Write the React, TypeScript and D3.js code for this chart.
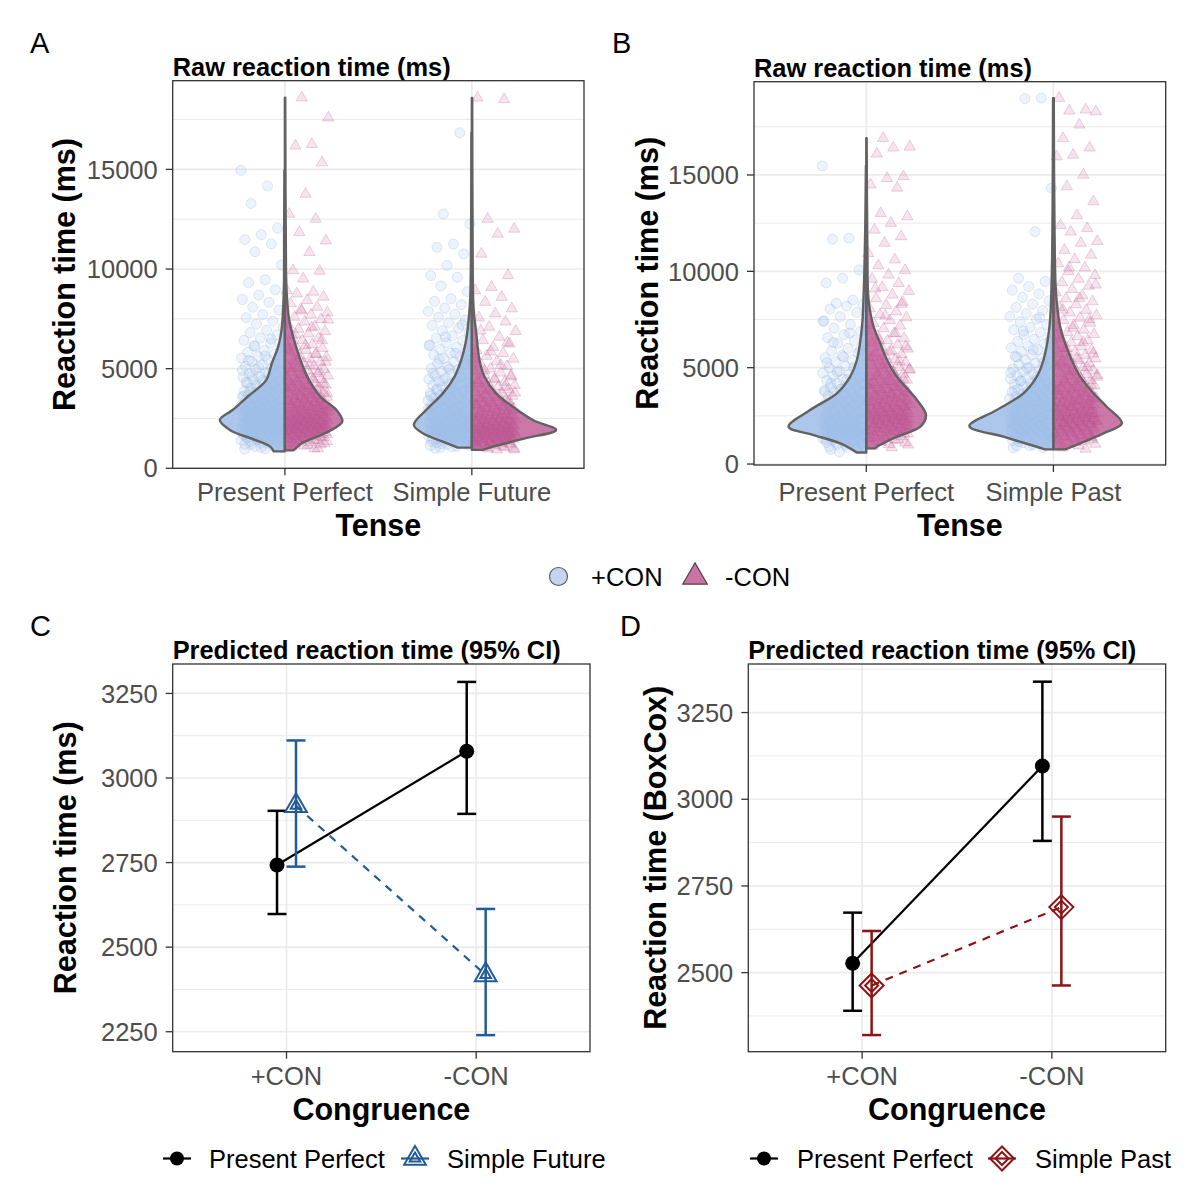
import React from "react";
import * as d3 from "d3";

const FONT = "'Liberation Sans', Arial, Helvetica, sans-serif";

// ---------------- categories / ticks ----------------
const tenseA = ["Present Perfect", "Simple Future"];
const tenseB = ["Present Perfect", "Simple Past"];
const congruenceLevels = ["+CON", "-CON"];
const rawTicks = [0, 5000, 10000, 15000];
const rawMinor = [2500, 7500, 12500, 17500];
const predTicksC = [2250, 2500, 2750, 3000, 3250];
const predMinorC = [2375, 2625, 2875, 3125];
const predTicksD = [2500, 2750, 3000, 3250];
const predMinorD = [2375, 2625, 2875, 3125, 3375];

// ---------------- raw reaction times (ms) ----------------
const rawA_PP_pos = [14950, 14170, 13290, 12050, 11720, 11480, 11260, 10870, 10210, 9460, 9310, 8960, 8690, 8470, 8330, 8080, 7940, 7710, 7560, 7390, 7240, 7080, 6930, 6810, 6690, 6540, 6420, 6270, 6150, 6040, 5910, 5830, 5720, 5610, 5530, 5440, 5360, 5270, 5190, 5120, 5030, 4960, 4890, 4810, 4760, 4690, 4620, 4570, 4510, 4440, 4390, 4330, 4280, 4220, 4170, 4130, 4070, 4020, 3980, 3930, 3890, 3840, 3800, 3770, 3720, 3690, 3650, 3610, 3580, 3540, 3510, 3470, 3440, 3410, 3370, 3340, 3310, 3280, 3250, 3220, 3190, 3160, 3130, 3100, 3080, 3050, 3020, 2990, 2960, 2940, 2910, 2880, 2860, 2830, 2800, 2780, 2750, 2730, 2700, 2680, 2650, 2630, 2610, 2580, 2560, 2540, 2510, 2490, 2470, 2440, 2420, 2400, 2370, 2350, 2330, 2300, 2280, 2260, 2230, 2210, 2190, 2160, 2140, 2110, 2090, 2060, 2040, 2010, 1990, 1960, 1930, 1900, 1870, 1840, 1800, 1770, 1730, 1690, 1650, 1610, 1560, 1510, 1460, 1400, 1340, 1270, 1200, 1120, 1040, 960];
const moreA_PP_pos = [6480, 6120, 5870, 5640, 5410, 5230, 5060, 4920, 4780, 4650, 4530, 4420, 4310, 4210, 4110, 4020, 3930, 3850, 3770, 3700, 3630, 3560, 3490, 3430, 3370, 3310, 3250, 3200, 3150, 3100, 3050, 3000, 2960, 2910, 2870, 2830, 2790, 2750, 2710, 2670, 2640, 2600, 2570, 2530, 2500, 2470, 2440, 2410, 2380, 2350, 2320, 2290, 2260, 2230, 2210, 2180, 2150, 2130, 2100, 2080, 2050, 2030, 2000, 1980, 1950, 1930, 1900, 1880, 1850, 1830, 1800, 1780, 1750, 1720, 1700, 1670, 1640, 1610, 1580, 1550, 1520, 1490, 1450, 1420, 1380, 1340, 1300, 1260, 1210, 1160, 1100, 1040, 980];
const rawA_PP_neg = [18600, 17590, 16260, 16180, 15340, 13760, 12760, 12510, 11840, 11420, 10840, 9930, 9900, 9510, 8930, 8850, 8760, 8600, 8430, 8270, 8090, 7960, 7820, 7700, 7590, 7480, 7350, 7220, 7110, 6990, 6880, 6760, 6650, 6540, 6420, 6330, 6210, 6110, 6020, 5930, 5840, 5740, 5660, 5570, 5490, 5410, 5330, 5260, 5180, 5110, 5040, 4970, 4900, 4840, 4770, 4710, 4650, 4590, 4530, 4470, 4410, 4360, 4300, 4250, 4190, 4140, 4090, 4040, 3990, 3940, 3890, 3850, 3800, 3760, 3710, 3670, 3630, 3580, 3540, 3500, 3460, 3420, 3380, 3340, 3300, 3270, 3230, 3190, 3160, 3120, 3080, 3050, 3010, 2980, 2940, 2910, 2870, 2840, 2810, 2770, 2740, 2710, 2680, 2640, 2610, 2580, 2550, 2520, 2490, 2460, 2430, 2400, 2370, 2340, 2310, 2280, 2250, 2220, 2190, 2160, 2130, 2100, 2070, 2040, 2010, 1980, 1950, 1910, 1880, 1840, 1800, 1760, 1720, 1680, 1630, 1580, 1530, 1470, 1410, 1340, 1260, 1170, 1080, 990];
const moreA_PP_neg = [7900, 7450, 7060, 6720, 6430, 6170, 5940, 5720, 5520, 5340, 5170, 5010, 4860, 4720, 4590, 4470, 4350, 4240, 4130, 4030, 3930, 3840, 3750, 3670, 3590, 3510, 3440, 3370, 3300, 3230, 3170, 3110, 3050, 2990, 2940, 2880, 2830, 2780, 2730, 2680, 2640, 2590, 2550, 2510, 2470, 2430, 2390, 2350, 2310, 2280, 2240, 2210, 2170, 2140, 2110, 2080, 2050, 2020, 1990, 1960, 1930, 1900, 1870, 1840, 1810, 1780, 1750, 1720, 1690, 1660, 1620, 1590, 1550, 1520, 1480, 1440, 1400, 1350, 1300, 1250, 1190, 1130, 1060, 990];
const rawA_SF_pos = [16840, 12760, 12260, 11260, 11090, 10760, 10180, 9670, 9590, 9150, 8870, 8510, 8380, 8210, 8040, 7880, 7730, 7590, 7440, 7300, 7170, 7030, 6900, 6780, 6650, 6530, 6410, 6300, 6190, 6080, 5980, 5880, 5780, 5690, 5600, 5510, 5420, 5340, 5250, 5170, 5090, 5020, 4940, 4870, 4800, 4730, 4660, 4600, 4530, 4470, 4410, 4350, 4290, 4230, 4170, 4120, 4060, 4010, 3960, 3910, 3860, 3810, 3760, 3710, 3670, 3620, 3580, 3530, 3490, 3450, 3410, 3370, 3330, 3290, 3250, 3210, 3170, 3140, 3100, 3060, 3030, 2990, 2960, 2920, 2890, 2860, 2820, 2790, 2760, 2730, 2700, 2670, 2640, 2610, 2580, 2550, 2520, 2490, 2460, 2430, 2400, 2370, 2340, 2310, 2280, 2250, 2220, 2190, 2160, 2130, 2100, 2070, 2040, 2010, 1980, 1950, 1920, 1890, 1860, 1830, 1790, 1760, 1720, 1680, 1640, 1600, 1560, 1510, 1460, 1410, 1350, 1290, 1230, 1160, 1090, 1010];
const moreA_SF_pos = [7200, 6600, 6150, 5780, 5470, 5200, 4970, 4760, 4570, 4400, 4250, 4110, 3980, 3860, 3750, 3640, 3540, 3450, 3360, 3270, 3190, 3110, 3040, 2970, 2900, 2840, 2780, 2720, 2660, 2610, 2560, 2510, 2460, 2420, 2370, 2330, 2290, 2250, 2210, 2170, 2140, 2100, 2070, 2030, 2000, 1970, 1940, 1910, 1880, 1850, 1820, 1790, 1760, 1740, 1710, 1680, 1650, 1620, 1590, 1560, 1530, 1500, 1470, 1440, 1400, 1370, 1330, 1290, 1250, 1200, 1150, 1100, 1050];
const rawA_SF_neg = [18590, 18510, 12510, 12010, 11760, 10760, 9680, 9090, 8920, 8590, 8340, 8010, 7760, 7560, 7350, 7090, 6880, 6590, 6420, 6250, 6070, 5920, 5770, 5630, 5490, 5360, 5240, 5120, 5000, 4890, 4790, 4690, 4590, 4500, 4410, 4330, 4250, 4170, 4090, 4020, 3950, 3880, 3810, 3750, 3690, 3630, 3570, 3510, 3460, 3400, 3350, 3300, 3250, 3200, 3150, 3110, 3060, 3020, 2970, 2930, 2890, 2850, 2810, 2770, 2730, 2690, 2650, 2620, 2580, 2540, 2510, 2470, 2440, 2400, 2370, 2340, 2310, 2270, 2240, 2210, 2180, 2150, 2120, 2090, 2060, 2030, 2000, 1970, 1940, 1910, 1880, 1850, 1820, 1790, 1760, 1730, 1700, 1670, 1640, 1610, 1570, 1540, 1500, 1470, 1430, 1390, 1350, 1300, 1260, 1210, 1160, 1110, 1050, 990, 930];
const moreA_SF_neg = [6900, 6300, 5850, 5480, 5170, 4900, 4660, 4450, 4260, 4090, 3930, 3790, 3650, 3530, 3410, 3300, 3200, 3100, 3010, 2920, 2840, 2760, 2690, 2620, 2550, 2490, 2430, 2370, 2320, 2270, 2220, 2170, 2130, 2090, 2050, 2010, 1970, 1940, 1900, 1870, 1840, 1810, 1780, 1750, 1720, 1690, 1660, 1630, 1610, 1580, 1550, 1520, 1490, 1460, 1430, 1400, 1370, 1340, 1300, 1270, 1230, 1190, 1150, 1100, 1050, 990, 940];
const rawB_PP_pos = [15470, 11720, 11670, 10080, 9640, 9400, 8510, 8340, 8290, 8200, 8050, 7860, 7650, 7430, 7240, 7050, 6880, 6720, 6560, 6410, 6270, 6130, 6000, 5870, 5750, 5630, 5520, 5410, 5300, 5200, 5100, 5000, 4910, 4820, 4730, 4650, 4570, 4490, 4410, 4340, 4270, 4200, 4130, 4060, 4000, 3940, 3880, 3820, 3760, 3700, 3650, 3590, 3540, 3490, 3440, 3390, 3340, 3290, 3250, 3200, 3160, 3110, 3070, 3030, 2990, 2950, 2910, 2870, 2830, 2790, 2760, 2720, 2680, 2650, 2610, 2580, 2550, 2510, 2480, 2450, 2420, 2390, 2360, 2330, 2300, 2270, 2240, 2210, 2180, 2150, 2120, 2090, 2060, 2030, 2000, 1970, 1940, 1910, 1880, 1850, 1820, 1790, 1760, 1730, 1700, 1670, 1640, 1600, 1570, 1530, 1490, 1450, 1410, 1360, 1310, 1260, 1200, 1140, 1070, 990, 900, 800, 620];
const moreB_PP_pos = [7400, 6800, 6300, 5900, 5560, 5270, 5010, 4780, 4570, 4380, 4200, 4040, 3890, 3750, 3620, 3500, 3390, 3280, 3180, 3080, 2990, 2900, 2820, 2740, 2670, 2600, 2530, 2470, 2410, 2350, 2290, 2240, 2190, 2140, 2090, 2050, 2010, 1970, 1930, 1890, 1850, 1810, 1780, 1740, 1710, 1670, 1640, 1610, 1570, 1540, 1510, 1480, 1440, 1410, 1370, 1340, 1300, 1260, 1220, 1170, 1120, 1070, 1010, 940, 860, 760];
const rawB_PP_neg = [16910, 16460, 16410, 16100, 14920, 14830, 14490, 14330, 13010, 12840, 12500, 12150, 11810, 11470, 10940, 10600, 10300, 10050, 9820, 9600, 9380, 9170, 8970, 8780, 8590, 8410, 8240, 8070, 7910, 7750, 7600, 7450, 7310, 7170, 7030, 6900, 6770, 6650, 6530, 6410, 6300, 6190, 6080, 5980, 5880, 5780, 5690, 5600, 5510, 5420, 5340, 5260, 5180, 5100, 5030, 4950, 4880, 4810, 4740, 4670, 4610, 4540, 4480, 4420, 4360, 4300, 4240, 4180, 4120, 4070, 4010, 3960, 3910, 3860, 3810, 3760, 3710, 3660, 3610, 3570, 3520, 3480, 3430, 3390, 3350, 3300, 3260, 3220, 3180, 3140, 3100, 3060, 3020, 2980, 2940, 2900, 2870, 2830, 2790, 2750, 2720, 2680, 2640, 2610, 2570, 2540, 2500, 2470, 2430, 2400, 2360, 2330, 2290, 2250, 2220, 2180, 2140, 2100, 2060, 2020, 1980, 1930, 1880, 1830, 1770, 1710, 1640, 1560, 1470, 1370, 1260, 1140, 1000, 860];
const moreB_PP_neg = [9100, 8300, 7700, 7200, 6780, 6420, 6100, 5820, 5560, 5330, 5120, 4920, 4740, 4570, 4410, 4260, 4120, 3990, 3870, 3750, 3640, 3530, 3430, 3330, 3240, 3150, 3060, 2980, 2900, 2830, 2760, 2690, 2620, 2560, 2500, 2440, 2380, 2330, 2270, 2220, 2170, 2120, 2070, 2030, 1980, 1940, 1890, 1850, 1800, 1760, 1720, 1670, 1630, 1580, 1530, 1480, 1430, 1370, 1310, 1250, 1180, 1110, 1030, 940];
const rawB_SP_pos = [18990, 18960, 14310, 12060, 9640, 9470, 9210, 9020, 8830, 8650, 8470, 8300, 8130, 7970, 7810, 7660, 7510, 7370, 7230, 7090, 6960, 6830, 6710, 6590, 6470, 6360, 6250, 6140, 6040, 5940, 5840, 5750, 5660, 5570, 5480, 5400, 5320, 5240, 5160, 5080, 5010, 4940, 4870, 4800, 4730, 4670, 4600, 4540, 4480, 4420, 4360, 4300, 4250, 4190, 4140, 4080, 4030, 3980, 3930, 3880, 3830, 3780, 3740, 3690, 3640, 3600, 3550, 3510, 3470, 3420, 3380, 3340, 3300, 3260, 3220, 3180, 3140, 3100, 3070, 3030, 2990, 2950, 2920, 2880, 2850, 2810, 2780, 2740, 2710, 2680, 2640, 2610, 2580, 2540, 2510, 2480, 2450, 2420, 2380, 2350, 2320, 2290, 2260, 2230, 2200, 2170, 2140, 2110, 2070, 2040, 2010, 1980, 1940, 1910, 1870, 1840, 1800, 1760, 1720, 1680, 1630, 1580, 1530, 1470, 1410, 1340, 1260, 1170, 1070, 960, 830];
const moreB_SP_pos = [7600, 6900, 6350, 5920, 5560, 5250, 4980, 4740, 4520, 4320, 4140, 3970, 3810, 3670, 3530, 3400, 3280, 3170, 3060, 2960, 2870, 2780, 2690, 2610, 2540, 2470, 2400, 2340, 2280, 2220, 2160, 2110, 2060, 2010, 1960, 1920, 1880, 1840, 1800, 1760, 1720, 1680, 1650, 1610, 1580, 1540, 1510, 1470, 1440, 1400, 1370, 1330, 1290, 1250, 1210, 1160, 1110, 1060, 1000, 930, 850];
const rawB_SP_neg = [18990, 18380, 18330, 18290, 17600, 16900, 16410, 16040, 15950, 15000, 14400, 13620, 12900, 12390, 12230, 12050, 11560, 11470, 11100, 10850, 10620, 10400, 10190, 9990, 9790, 9600, 9420, 9240, 9070, 8900, 8740, 8580, 8430, 8280, 8130, 7990, 7850, 7710, 7580, 7450, 7320, 7200, 7080, 6960, 6840, 6730, 6620, 6510, 6410, 6300, 6200, 6100, 6010, 5910, 5820, 5730, 5640, 5560, 5470, 5390, 5310, 5230, 5150, 5080, 5000, 4930, 4860, 4790, 4720, 4650, 4590, 4520, 4460, 4400, 4340, 4280, 4220, 4160, 4110, 4050, 4000, 3940, 3890, 3840, 3790, 3740, 3690, 3640, 3600, 3550, 3510, 3460, 3420, 3380, 3330, 3290, 3250, 3210, 3170, 3130, 3090, 3060, 3020, 2980, 2940, 2910, 2870, 2840, 2800, 2770, 2730, 2700, 2660, 2630, 2600, 2560, 2530, 2500, 2470, 2430, 2400, 2370, 2340, 2300, 2270, 2240, 2200, 2170, 2130, 2100, 2060, 2020, 1980, 1940, 1890, 1840, 1790, 1730, 1660, 1590, 1500, 1400, 1280, 1130, 950, 780];
const moreB_SP_neg = [10200, 9300, 8600, 8000, 7500, 7060, 6670, 6320, 6010, 5730, 5470, 5230, 5010, 4800, 4610, 4430, 4260, 4100, 3950, 3810, 3670, 3540, 3420, 3300, 3190, 3080, 2980, 2880, 2790, 2700, 2610, 2530, 2450, 2380, 2310, 2240, 2180, 2120, 2060, 2000, 1950, 1890, 1840, 1790, 1740, 1690, 1640, 1590, 1540, 1490, 1440, 1380, 1320, 1260, 1190, 1120, 1040, 950, 850];

// ---------------- violin half-widths: [rt (ms), half width (category units)] ----------------
const violinA_PP_pos = [[850, 0.06], [1100, 0.08], [1425, 0.16], [1925, 0.294], [2425, 0.348], [2925, 0.28], [3590, 0.2], [4425, 0.1], [5260, 0.07], [6090, 0.036], [6925, 0.018], [8770, 0.006], [12000, 0.004], [14950, 0.002]];
const violinA_PP_neg = [[900, 0.045], [1100, 0.07], [1260, 0.09], [1760, 0.214], [2340, 0.307], [2925, 0.276], [3590, 0.19], [4425, 0.13], [5260, 0.09], [6090, 0.06], [6925, 0.035], [7500, 0.022], [8760, 0.01], [10000, 0.006], [18600, 0.002]];
const violinA_SF_pos = [[1040, 0.075], [1340, 0.155], [1760, 0.262], [2175, 0.31], [2925, 0.244], [3760, 0.155], [4590, 0.093], [5425, 0.057], [6260, 0.034], [7090, 0.021], [8425, 0.009], [12000, 0.004], [16840, 0.002]];
const violinA_SF_neg = [[925, 0.059], [1090, 0.112], [1510, 0.289], [1925, 0.451], [2425, 0.326], [3090, 0.219], [3760, 0.13], [4590, 0.068], [5425, 0.041], [6760, 0.024], [8090, 0.009], [12000, 0.004], [18590, 0.002]];
const violinB_PP_pos = [[600, 0.05], [1074, 0.139], [1505, 0.282], [1937, 0.415], [2804, 0.3], [3671, 0.157], [4533, 0.086], [5400, 0.05], [7129, 0.023], [8862, 0.014], [12000, 0.006], [15470, 0.002]];
const violinB_PP_neg = [[815, 0.048], [898, 0.057], [1418, 0.164], [1937, 0.289], [2544, 0.319], [3323, 0.271], [4533, 0.164], [5400, 0.111], [6266, 0.075], [7129, 0.039], [8515, 0.012], [11000, 0.006], [16910, 0.002]];
const violinB_SP_pos = [[763, 0.045], [898, 0.089], [1418, 0.267], [1973, 0.449], [2804, 0.303], [3671, 0.16], [4533, 0.089], [5400, 0.053], [7129, 0.021], [9725, 0.009], [14000, 0.004], [18990, 0.002]];
const violinB_SP_neg = [[763, 0.063], [1074, 0.143], [1594, 0.267], [2113, 0.366], [2975, 0.285], [3671, 0.214], [4533, 0.143], [5400, 0.098], [6266, 0.063], [7129, 0.036], [8862, 0.014], [12000, 0.006], [18990, 0.002]];

// ---------------- predicted values (95% CI) ----------------
const C_PP_fit = [2743, 3079];
const C_PP_lo = [2598, 2894];
const C_PP_hi = [2903, 3284];
const C_SF_fit = [2918, 2418];
const C_SF_lo = [2738, 2240];
const C_SF_hi = [3111, 2613];
const D_PP_fit = [2527, 3096];
const D_PP_lo = [2390, 2880];
const D_PP_hi = [2673, 3339];
const D_SP_fit = [2463, 2689];
const D_SP_lo = [2320, 2463];
const D_SP_hi = [2620, 2950];

// ---------------- styles ----------------
const BLUE_PT = "#a7c2ea";
const PINK_PT = "#c15d97";
const BLUE_VIO = "#9dbde8";
const PINK_VIO = "#b94b8c";
const BLUE_LINE = "#235b96";
const RED_LINE = "#8b1414";
const GRID = "#ebebeb";
const BORDER = "#333333";
const TICKTXT = "#4d4d4d";
const TICK_FS = 25.5;
const TITLE_FS = 25.4;
const AXTITLE_FS = 30.5;

type Box = { left: number; right: number; top: number; bottom: number };

const frac = (t: number) => t - Math.floor(t);

function Frame({ box, x, y, yTicks, yMinor, cats, title, xTitle, yTitle, yTitleX, xLabY, xTitleY }: any) {
  return (
    <g>
      <rect x={box.left} y={box.top} width={box.right - box.left} height={box.bottom - box.top} fill="#fff" />
      {yMinor.map((t: number) => (
        <line key={"mi" + t} x1={box.left} x2={box.right} y1={y(t)} y2={y(t)} stroke={GRID} strokeWidth={1} />
      ))}
      {yTicks.map((t: number) => (
        <line key={"ma" + t} x1={box.left} x2={box.right} y1={y(t)} y2={y(t)} stroke={GRID} strokeWidth={1.7} />
      ))}
      {cats.map((c: string, i: number) => (
        <line key={"xg" + c} x1={x(i + 1)} x2={x(i + 1)} y1={box.top} y2={box.bottom} stroke={GRID} strokeWidth={1.7} />
      ))}
      <text x={box.left} y={box.top - 5} fontFamily={FONT} fontWeight="bold" fontSize={TITLE_FS} fill="#000">{title}</text>
      {yTicks.map((t: number) => (
        <g key={"yt" + t}>
          <line x1={box.left - 7} x2={box.left} y1={y(t)} y2={y(t)} stroke={BORDER} strokeWidth={1.3} />
          <text x={box.left - 15} y={y(t)} dy="0.36em" textAnchor="end" fontFamily={FONT} fontSize={TICK_FS} fill={TICKTXT}>{t}</text>
        </g>
      ))}
      {cats.map((c: string, i: number) => (
        <g key={"xt" + c}>
          <line x1={x(i + 1)} x2={x(i + 1)} y1={box.bottom} y2={box.bottom + 7} stroke={BORDER} strokeWidth={1.3} />
          <text x={x(i + 1)} y={xLabY} textAnchor="middle" fontFamily={FONT} fontSize={TICK_FS} fill={TICKTXT}>{c}</text>
        </g>
      ))}
      <text x={(box.left + box.right) / 2} y={xTitleY} textAnchor="middle" fontFamily={FONT} fontWeight="bold" fontSize={AXTITLE_FS} fill="#000">{xTitle}</text>
      <text transform={`translate(${yTitleX},${(box.top + box.bottom) / 2}) rotate(-90)`} textAnchor="middle" fontFamily={FONT} fontWeight="bold" fontSize={AXTITLE_FS} fill="#000">{yTitle}</text>
    </g>
  );
}

function ViolinPanel({ box, yDomain, cats, groups, title, yTitleX }: any) {
  const x = d3.scaleLinear().domain([0.4, 2.6]).range([box.left, box.right]);
  const y = d3.scaleLinear().domain(yDomain).range([box.bottom, box.top]);
  const tri = d3.symbol().type(d3.symbolTriangle).size(55)() as string;
  return (
    <g>
      <Frame box={box} x={x} y={y} yTicks={rawTicks} yMinor={rawMinor} cats={cats} title={title} xTitle="Tense" yTitle="Reaction time (ms)" yTitleX={yTitleX} xLabY={501} xTitleY={536} />
      {groups.map((g: any, gi: number) => (
        <g key={"pts" + gi}>
          {g.raw.map((v: number, i: number) => {
            const u = frac(i * 0.6180339887 + gi * 0.37);
            const cx = x(g.cat + g.side * 0.12 + (u - 0.5) * 0.23);
            const cy = y(v);
            return g.side < 0 ? (
              <circle key={i} cx={cx} cy={cy} r={5} fill={BLUE_PT} fillOpacity={0.2} stroke="#8eaedd" strokeOpacity={0.3} strokeWidth={0.9} />
            ) : (
              <path key={i} d={tri} transform={`translate(${cx},${cy})`} fill={PINK_PT} fillOpacity={0.17} stroke={PINK_PT} strokeOpacity={0.3} strokeWidth={0.9} />
            );
          })}
        </g>
      ))}
      {groups.map((g: any, gi: number) => {
        const area = d3
          .area<number[]>()
          .y((d) => y(d[0]))
          .x0(() => x(g.cat))
          .x1((d) => x(g.cat + g.side * d[1]))
          .curve(d3.curveCatmullRom.alpha(0.5));
        return (
          <path key={"vio" + gi} d={area(g.violin) as string} fill={g.side < 0 ? BLUE_VIO : PINK_VIO} fillOpacity={g.side < 0 ? 0.85 : 0.75} stroke="#626262" strokeWidth={2.4} strokeLinejoin="round" />
        );
      })}
      <rect x={box.left} y={box.top} width={box.right - box.left} height={box.bottom - box.top} fill="none" stroke={BORDER} strokeWidth={1.3} />
    </g>
  );
}

function diamondPath(h: number) {
  return `M0,${-h}L${h},0L0,${h}L${-h},0Z`;
}

function PredPanel({ box, yDomain, yTicks, yMinor, series, title, yTitle, yTitleX }: any) {
  const x = d3.scaleLinear().domain([0.4, 2.6]).range([box.left, box.right]);
  const y = d3.scaleLinear().domain(yDomain).range([box.bottom, box.top]);
  const triOuter = d3.symbol().type(d3.symbolTriangle).size(205)() as string;
  const triInner = d3.symbol().type(d3.symbolTriangle).size(48)() as string;
  return (
    <g>
      <Frame box={box} x={x} y={y} yTicks={yTicks} yMinor={yMinor} cats={congruenceLevels} title={title} xTitle="Congruence" yTitle={yTitle} yTitleX={yTitleX} xLabY={box.bottom + 33} xTitleY={box.bottom + 68} />
      {series.map((s: any, si: number) => {
        const line = d3.line<number>().x((_, i) => x(i + 1 + s.dodge)).y((d) => y(d));
        return (
          <path key={"ln" + si} d={line(s.fit) as string} fill="none" stroke={s.color} strokeWidth={2.2} strokeDasharray={s.dashed ? "8,7" : undefined} />
        );
      })}
      {series.map((s: any, si: number) => (
        <g key={"eb" + si}>
          {s.fit.map((_: number, i: number) => {
            const xc = i + 1 + s.dodge;
            return (
              <g key={i}>
                <line x1={x(xc)} x2={x(xc)} y1={y(s.lo[i])} y2={y(s.hi[i])} stroke={s.color} strokeWidth={2.5} />
                <line x1={x(xc - 0.05)} x2={x(xc + 0.05)} y1={y(s.lo[i])} y2={y(s.lo[i])} stroke={s.color} strokeWidth={2.5} />
                <line x1={x(xc - 0.05)} x2={x(xc + 0.05)} y1={y(s.hi[i])} y2={y(s.hi[i])} stroke={s.color} strokeWidth={2.5} />
              </g>
            );
          })}
        </g>
      ))}
      {series.map((s: any, si: number) => (
        <g key={"pt" + si}>
          {s.fit.map((v: number, i: number) => {
            const cx = x(i + 1 + s.dodge);
            const cy = y(v);
            if (s.shape === "circle") return <circle key={i} cx={cx} cy={cy} r={7.5} fill="#000" />;
            if (s.shape === "triangle")
              return (
                <g key={i} transform={`translate(${cx},${cy})`} fill="none" stroke={s.color} strokeWidth={2}>
                  <path d={triOuter} />
                  <path d={triInner} />
                </g>
              );
            return (
              <g key={i} transform={`translate(${cx},${cy})`} fill="none" stroke={s.color} strokeWidth={2}>
                <path d={diamondPath(12)} />
                <path d={diamondPath(6.5)} />
              </g>
            );
          })}
        </g>
      ))}
      <rect x={box.left} y={box.top} width={box.right - box.left} height={box.bottom - box.top} fill="none" stroke={BORDER} strokeWidth={1.3} />
    </g>
  );
}

function LineLegend({ items, y }: any) {
  const triOuter = d3.symbol().type(d3.symbolTriangle).size(205)() as string;
  const triInner = d3.symbol().type(d3.symbolTriangle).size(48)() as string;
  return (
    <g>
      {items.map((it: any, i: number) => (
        <g key={i}>
          <line x1={it.keyX - 14} x2={it.keyX + 14} y1={y} y2={y} stroke={it.color} strokeWidth={2.2} />
          {it.shape === "circle" && <circle cx={it.keyX} cy={y} r={7} fill="#000" />}
          {it.shape === "triangle" && (
            <g transform={`translate(${it.keyX},${y})`} fill="none" stroke={it.color} strokeWidth={2}>
              <path d={triOuter} />
              <path d={triInner} />
            </g>
          )}
          {it.shape === "diamond" && (
            <g transform={`translate(${it.keyX},${y})`} fill="none" stroke={it.color} strokeWidth={2}>
              <path d={diamondPath(12)} />
              <path d={diamondPath(6.5)} />
            </g>
          )}
          <text x={it.textX} y={y} dy="0.36em" fontFamily={FONT} fontSize={TICK_FS} fill="#000">{it.label}</text>
        </g>
      ))}
    </g>
  );
}

export default function App() {
  const boxA: Box = { left: 172.7, right: 584, top: 80.7, bottom: 468.3 };
  const boxB: Box = { left: 754, right: 1165.7, top: 81.7, bottom: 465 };
  const boxC: Box = { left: 172.7, right: 590, top: 664, bottom: 1051.7 };
  const boxD: Box = { left: 748.3, right: 1165.7, top: 664, bottom: 1051.7 };

  const groupsA = [
    { cat: 1, side: -1, raw: rawA_PP_pos.concat(moreA_PP_pos), violin: violinA_PP_pos },
    { cat: 1, side: 1, raw: rawA_PP_neg.concat(moreA_PP_neg), violin: violinA_PP_neg },
    { cat: 2, side: -1, raw: rawA_SF_pos.concat(moreA_SF_pos), violin: violinA_SF_pos },
    { cat: 2, side: 1, raw: rawA_SF_neg.concat(moreA_SF_neg), violin: violinA_SF_neg },
  ];
  const groupsB = [
    { cat: 1, side: -1, raw: rawB_PP_pos.concat(moreB_PP_pos), violin: violinB_PP_pos },
    { cat: 1, side: 1, raw: rawB_PP_neg.concat(moreB_PP_neg), violin: violinB_PP_neg },
    { cat: 2, side: -1, raw: rawB_SP_pos.concat(moreB_SP_pos), violin: violinB_SP_pos },
    { cat: 2, side: 1, raw: rawB_SP_neg.concat(moreB_SP_neg), violin: violinB_SP_neg },
  ];
  const seriesC = [
    { fit: C_PP_fit, lo: C_PP_lo, hi: C_PP_hi, dodge: -0.05, color: "#000", shape: "circle", dashed: false },
    { fit: C_SF_fit, lo: C_SF_lo, hi: C_SF_hi, dodge: 0.05, color: BLUE_LINE, shape: "triangle", dashed: true },
  ];
  const seriesD = [
    { fit: D_PP_fit, lo: D_PP_lo, hi: D_PP_hi, dodge: -0.05, color: "#000", shape: "circle", dashed: false },
    { fit: D_SP_fit, lo: D_SP_lo, hi: D_SP_hi, dodge: 0.05, color: RED_LINE, shape: "diamond", dashed: true },
  ];
  const legendTri = d3.symbol().type(d3.symbolTriangle).size(260)() as string;

  return (
    <svg width={1200} height={1203} style={{ position: "absolute", left: 0, top: 0, background: "#fff" }}>
      <rect x={0} y={0} width={1200} height={1203} fill="#fff" />
      <text x={30} y={53} fontFamily={FONT} fontSize={29} fill="#000">A</text>
      <text x={612} y={53} fontFamily={FONT} fontSize={29} fill="#000">B</text>
      <text x={30} y={636} fontFamily={FONT} fontSize={29} fill="#000">C</text>
      <text x={620} y={636} fontFamily={FONT} fontSize={29} fill="#000">D</text>

      <ViolinPanel box={boxA} yDomain={[0, 19450]} cats={tenseA} groups={groupsA} title="Raw reaction time (ms)" yTitleX={75} />
      <ViolinPanel box={boxB} yDomain={[-50, 19840]} cats={tenseB} groups={groupsB} title="Raw reaction time (ms)" yTitleX={658} />

      {/* shared legend for A/B */}
      <g>
        <circle cx={558.5} cy={576.5} r={9} fill="#c4d6ef" stroke="#555" strokeWidth={1.1} />
        <text x={591} y={576.5} dy="0.36em" fontFamily={FONT} fontSize={TICK_FS} fill="#000">{congruenceLevels[0]}</text>
        <path d={legendTri} transform="translate(695,577)" fill="#cb74a4" stroke="#444" strokeWidth={1.2} />
        <text x={725} y={576.5} dy="0.36em" fontFamily={FONT} fontSize={TICK_FS} fill="#000">{congruenceLevels[1]}</text>
      </g>

      <PredPanel box={boxC} yDomain={[2191, 3337]} yTicks={predTicksC} yMinor={predMinorC} series={seriesC} title="Predicted reaction time (95% CI)" yTitle="Reaction time (ms)" yTitleX={76} />
      <PredPanel box={boxD} yDomain={[2272, 3390]} yTicks={predTicksD} yMinor={predMinorD} series={seriesD} title="Predicted reaction time (95% CI)" yTitle="Reaction time (BoxCox)" yTitleX={666} />

      <LineLegend
        y={1158.5}
        items={[
          { keyX: 177, textX: 209, color: "#000", shape: "circle", label: tenseA[0] },
          { keyX: 415, textX: 447, color: BLUE_LINE, shape: "triangle", label: tenseA[1] },
        ]}
      />
      <LineLegend
        y={1158.5}
        items={[
          { keyX: 764, textX: 797, color: "#000", shape: "circle", label: tenseB[0] },
          { keyX: 1002, textX: 1035, color: RED_LINE, shape: "diamond", label: tenseB[1] },
        ]}
      />
    </svg>
  );
}
